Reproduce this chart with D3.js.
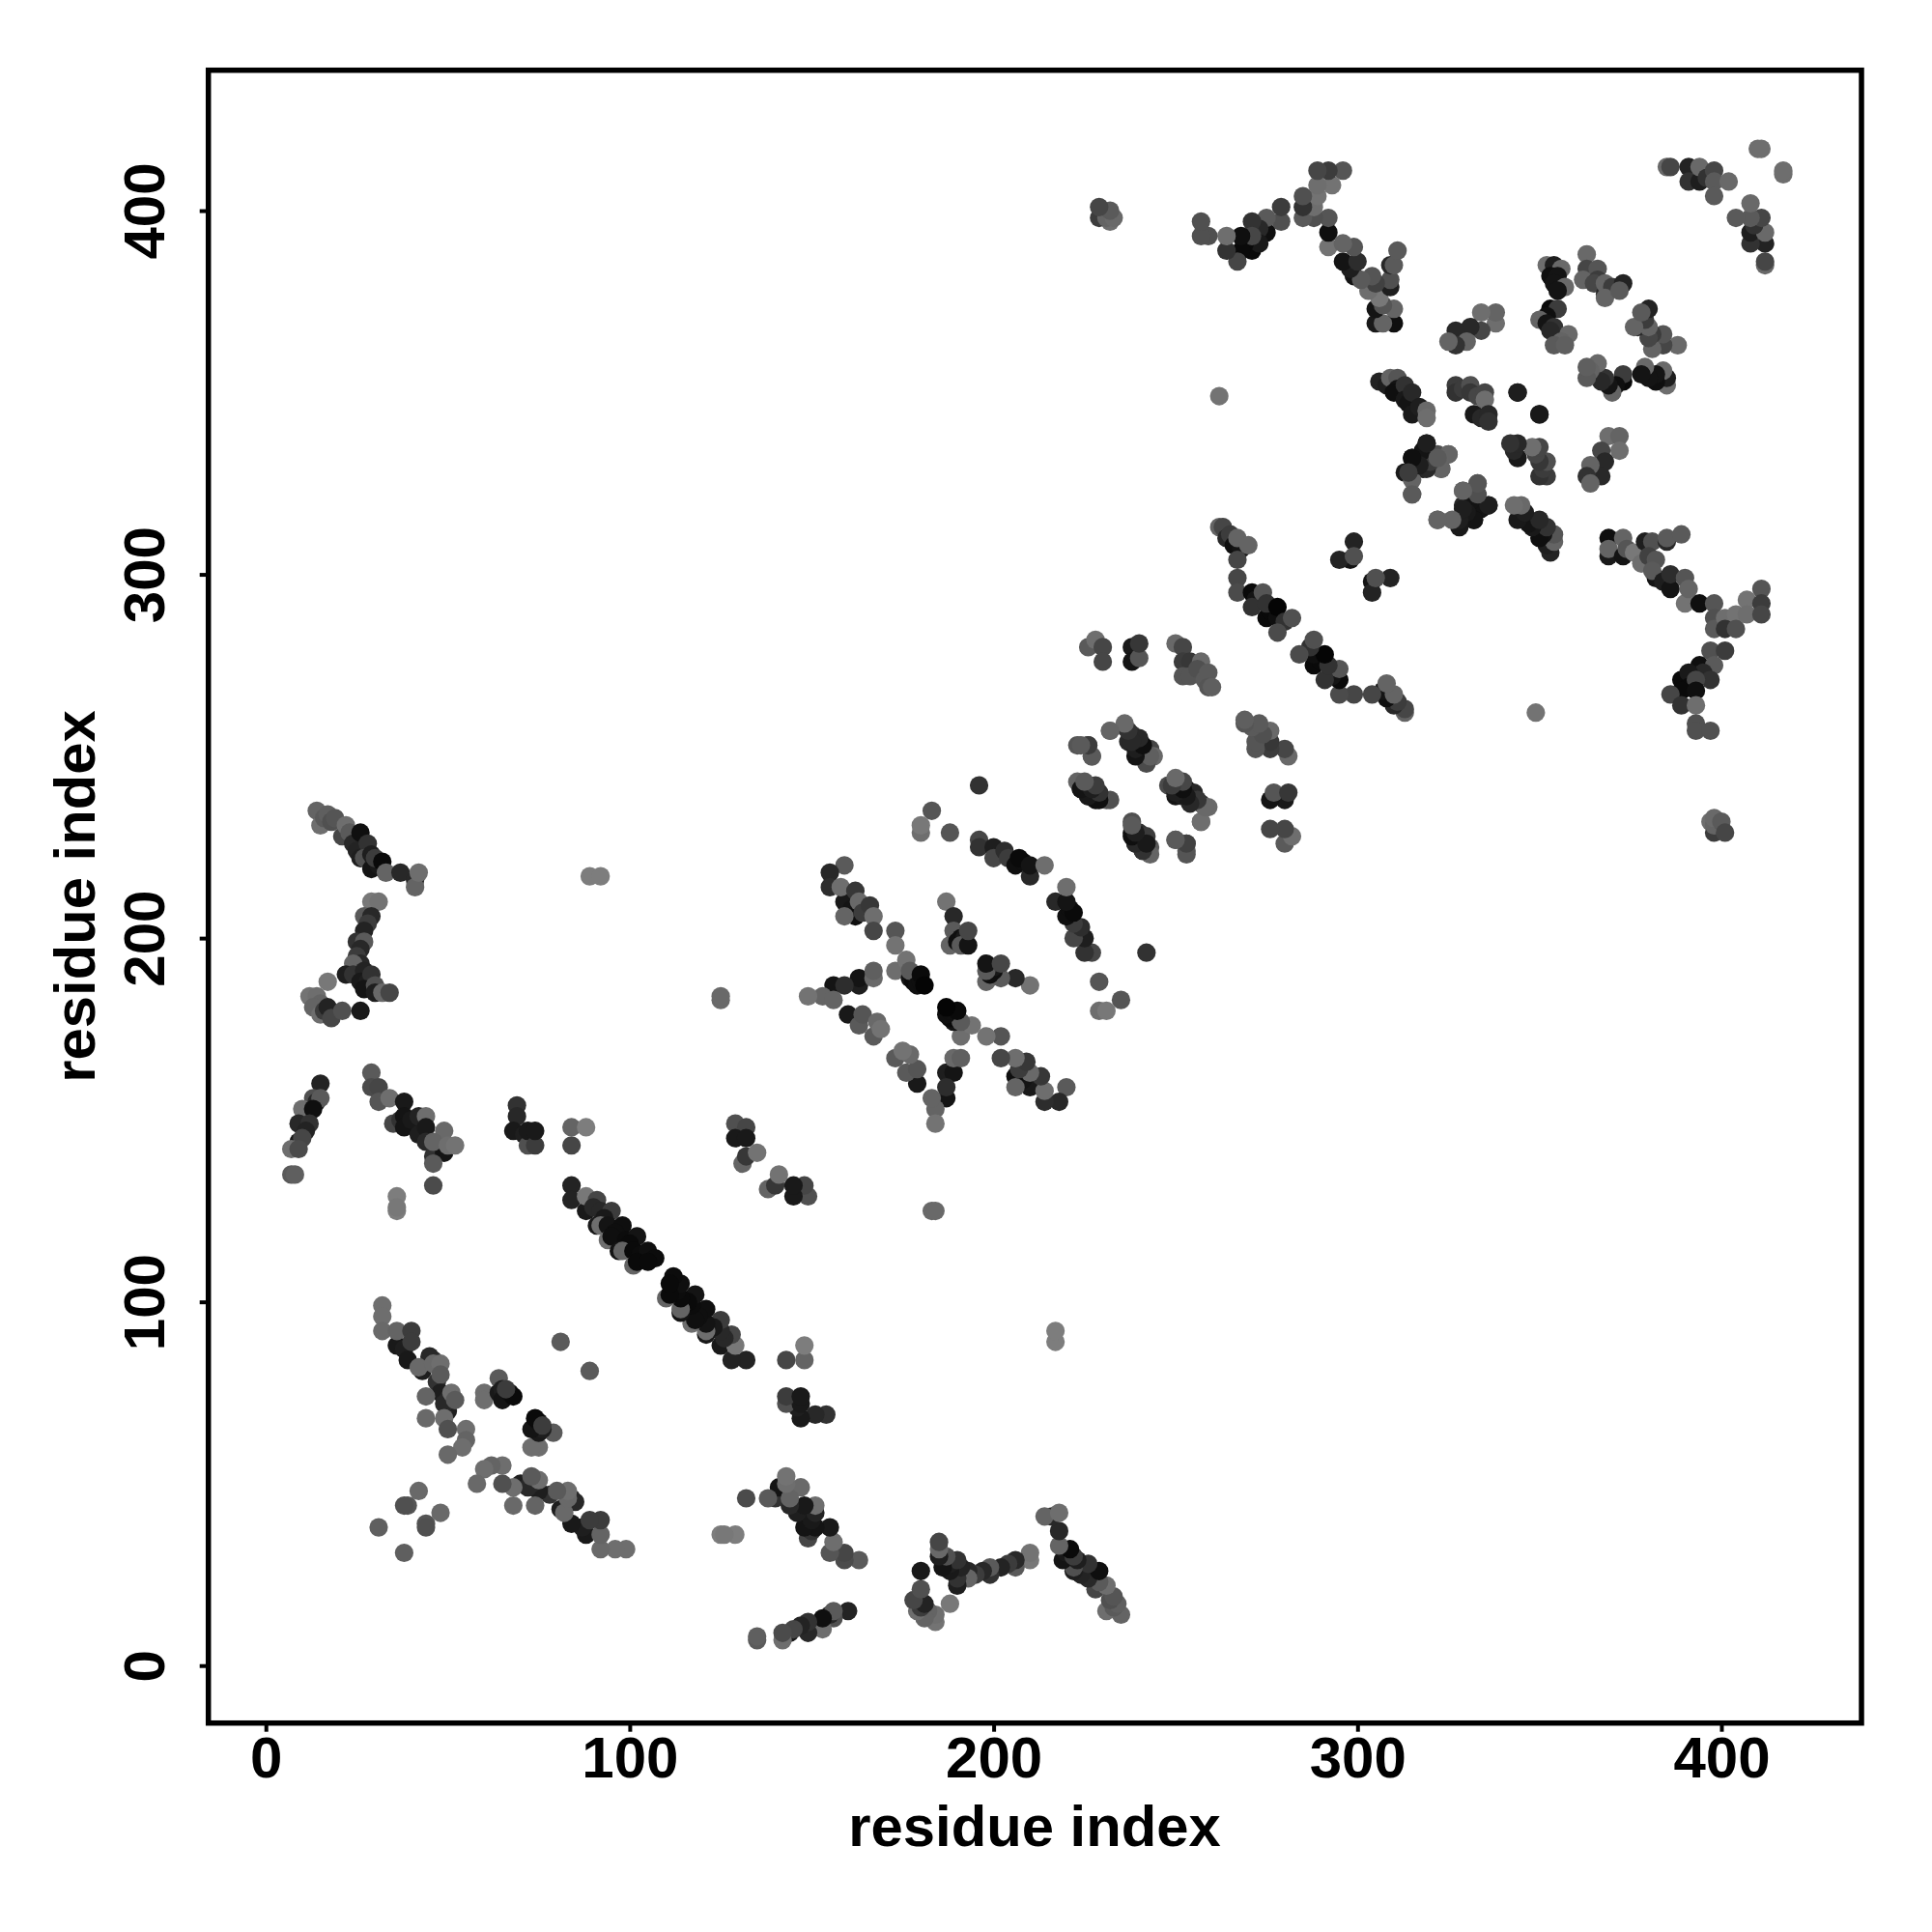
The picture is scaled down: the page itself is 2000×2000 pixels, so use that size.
<!DOCTYPE html>
<html>
<head>
<meta charset="utf-8">
<script src="https://cdn.jsdelivr.net/npm/d3@7"></script>
<style>html,body{margin:0;padding:0;background:#fff}svg{display:block}</style>
</head>
<body>
<svg id="chart" width="2000" height="2000"></svg>
<script>
// each contact: [residue a, residue b, grey level]; the map is drawn for (a,b) and (b,a)
const xTicks = [0, 100, 200, 300, 400];
const yTicks = [0, 100, 200, 300, 400];
const xTitle = "residue index";
const yTitle = "residue index";

const nTerminal = [[32,99,110],[32,96,110],[32,92,105],[36,88,25],[38,87,30],[39,84,25],[36,92,100],[40,92,60],[40,89,60],[43,81,30],[46,84,40],[45,84,30],[45,85,40],[42,82,105],[46,83,105],[48,83,110],[47,78,50],[48,80,90],[48,75,30],[50,73,40],[50,70,30],[49,72,40],[44,74,100],[51,75,110],[52,73,90],[44,68,105],[49,68,110],[50,65,80],[55,65,110],[55,62,100],[54,60,110],[50,58,105],[64,79,90],[60,75,110],[60,73,110],[64,75,25],[65,76,30],[65,73,20],[67,75,15],[68,74,10],[66,76,60],[81,89,90],[42,48,105],[39,44,85],[38,44,80],[31,38,95]];
const hairpinLong = [[84,132,35],[84,128,35],[88,125,25],[88,129,120],[91,128,70],[90,126,40],[92,125,40],[95,125,60],[93,123,25],[91,121,25],[92,121,110],[94,121,20],[98,121,15],[96,119,15],[94,117,110],[95,118,15],[99,117,12],[102,118,20],[100,116,10],[97,114,20],[98,114,100],[101,114,10],[103,113,12],[105,114,15],[107,112,12],[101,110,100],[102,111,10],[105,111,10],[129,149,80],[132,148,70],[129,145,25],[132,145,25],[131,138,100],[132,140,55],[135,141,115]];
const topArm = [[14,235,100],[15,231,110],[16,233,90],[17,234,95],[18,232,80],[19,233,85],[21,228,70],[22,231,110],[23,229,90],[24,226,40],[25,224,35],[26,222,30],[26,229,15],[28,226,50],[27,222,80],[29,223,30],[29,219,20],[31,220,25],[30,222,60],[32,221,10],[33,218,100],[37,218,40],[41,216,40],[41,214,100],[42,218,110]];
const midArm = [[29,210,120],[31,210,115],[27,206,90],[29,206,40],[28,204,60],[27,202,35],[25,199,50],[27,199,90],[26,197,40],[25,195,60],[26,193,40],[24,193,100],[22,190,30],[24,190,50],[27,191,35],[26,188,25],[28,188,30],[29,190,50],[27,186,20],[30,187,80],[30,185,30],[32,185,105],[34,185,70],[17,188,120],[12,184,115],[14,184,110],[15,182,100],[13,181,100],[15,179,110],[16,180,60],[17,181,35],[18,178,70],[21,180,80],[26,180,25]];
const lowArm = [[15,160,35],[13,156,80],[14,155,40],[15,156,90],[10,153,110],[13,153,15],[9,149,40],[12,149,50],[11,147,35],[9,144,25],[10,145,70],[7,142,110],[9,142,75],[7,135,90],[8,135,95],[29,163,90],[29,159,75],[31,159,70],[31,155,85],[34,156,110],[38,155,25],[35,149,70],[37,150,50],[38,151,20],[38,148,20],[40,150,25],[42,151,35],[42,146,30],[44,151,110],[44,148,25],[44,144,40],[47,142,40],[49,147,105],[46,140,50],[49,141,20],[46,138,90],[46,144,100],[50,143,110],[52,143,115],[46,132,75],[36,129,125],[36,125,125],[36,126,120],[69,154,50],[69,151,40],[68,147,25],[71,146,30],[72,143,80],[72,147,25],[74,143,60],[74,147,25],[84,143,70],[84,148,100],[88,148,125],[89,217,125],[92,217,125],[125,183,105],[125,184,105]];
const centreLeft = [[196,242,50],[183,235,85],[180,229,110],[180,231,120],[188,229,85],[159,220,90],[155,218,40],[155,214,45],[159,210,25],[158,214,110],[162,213,55],[161,208,20],[162,206,15],[163,210,105],[164,207,60],[166,209,55],[159,206,100],[167,206,110],[167,202,70],[173,202,85],[173,198,115],[173,191,110],[177,189,20],[178,188,10],[176,194,115],[177,191,90],[179,187,15],[180,188,15],[180,190,10],[181,187,5],[163,187,30],[163,189,20],[167,189,105],[167,191,95],[156,187,20],[159,187,45],[153,184,100],[156,183,100],[149,184,115],[160,179,25],[163,176,90],[164,179,85],[167,173,90],[168,177,105],[169,175,115]];
const centreRight = [[187,210,115],[189,206,40],[188,198,100],[189,202,90],[190,199,15],[191,200,15],[192,200,25],[191,198,90],[193,198,20],[193,202,70],[196,227,70],[196,225,50],[200,225,30],[200,222,70],[203,224,45],[204,222,60],[206,220,15],[208,221,15],[207,222,10],[210,217,40],[210,220,20],[214,220,110]];
const strandA = [[262,313,100],[263,313,70],[264,310,40],[265,311,60],[266,308,15],[268,307,20],[267,310,100],[270,308,100],[267,304,70],[267,299,70],[267,295,75],[271,295,10],[272,293,20],[274,295,85],[271,291,50],[275,288,10],[276,290,10],[278,288,15],[275,292,50],[278,291,5],[280,287,50],[278,284,75],[282,288,80],[299,309,35],[298,304,20],[295,304,35],[299,305,80]];
const strandB = [[226,280,90],[228,282,110],[230,280,70],[230,276,70],[238,280,25],[238,276,20],[240,277,85],[240,281,55],[250,281,105],[252,280,70],[252,276,60],[254,276,55],[257,276,105],[252,272,85],[254,272,85],[256,274,80],[258,271,90],[259,273,90],[259,269,85],[260,269,95],[232,257,110],[236,258,105],[238,256,55],[237,254,40],[239,253,25],[240,250,30],[241,252,15],[243,252,70],[242,249,60],[244,250,105],[223,253,85],[226,253,65],[227,250,90],[223,243,100],[224,241,50],[226,239,40],[228,238,15],[226,242,25],[229,239,30],[231,238,90],[248,242,75],[250,243,95],[250,239,20],[252,239,30],[253,241,15],[255,240,40],[254,238,40],[257,237,50],[259,236,105],[257,232,100],[238,232,80],[238,229,15],[239,226,25],[240,229,50],[241,224,20],[241,227,30],[242,228,60],[243,225,90],[250,227,90],[253,226,60],[253,224,90]];
const domainCore = [[306,353,35],[308,352,30],[309,354,100],[311,354,85],[311,351,20],[310,350,15],[313,352,50],[313,348,25],[314,347,20],[315,350,40],[315,344,25],[317,346,30],[319,345,105],[319,343,110],[327,352,60],[327,350,50],[329,351,60],[331,352,80],[331,350,55],[333,349,70],[335,350,70],[335,348,110],[332,344,25],[334,343,40],[336,344,40],[336,342,50],[344,350,25],[350,344,30],[319,336,30],[315,332,20],[320,331,20],[317,330,25],[322,333,80],[325,333,85],[313,328,25],[315,328,30],[318,329,30],[323,329,100],[315,326,100],[315,322,100],[329,323,100],[329,319,40],[331,320,60],[334,318,20],[330,317,30],[336,319,30],[332,315,15],[333,325,100],[332,322,90],[328,314,60],[322,315,90]];
const domainSide = [[369,338,110],[372,338,100],[372,334,110],[367,334,70],[368,331,40],[367,327,40],[364,330,100],[363,327,50],[364,325,100],[352,385,110],[354,385,30],[356,384,105],[353,382,15],[355,382,20],[354,380,20],[357,379,105],[355,378,20],[353,373,10],[355,373,60],[352,371,15],[350,370,100],[352,369,20],[354,368,50],[353,367,40],[358,366,105],[356,364,100],[354,363,90],[357,363,95],[363,388,105],[363,384,70],[366,384,85],[362,381,100],[366,381,60],[365,380,70],[368,377,40],[368,380,100],[370,379,60],[368,376,100],[373,380,35],[372,378,90]];
const cTerminalArm = [[369,305,25],[369,310,15],[373,310,100],[369,307,100],[373,305,20],[374,307,85],[376,306,120],[379,309,30],[381,309,80],[385,309,40],[385,310,90],[389,311,90],[378,303,110],[380,305,65],[382,299,20],[382,304,85],[381,301,90],[384,298,30],[386,296,20],[386,300,45],[390,299,85],[390,292,115],[391,296,100],[394,292,15],[398,292,85],[398,288,80],[398,285,90],[401,288,110],[404,289,115],[401,285,50],[404,285,80],[407,293,115],[411,296,85],[411,292,60],[407,289,110],[411,289,70],[397,279,80],[401,279,60],[394,275,15],[398,275,90],[395,273,40],[389,271,10],[391,273,25],[391,269,10],[397,271,50],[393,271,70],[389,268,10],[393,268,15],[386,267,70],[389,264,50],[393,264,110],[393,259,80],[393,257,80],[397,257,80],[349,262,115],[397,232,110],[398,229,60],[398,231,100],[398,233,105],[400,232,90],[401,229,70]];
const cTerminalTip = [[385,412,105],[386,412,70],[391,412,35],[391,408,50],[394,408,30],[394,412,105],[396,409,50],[398,411,70],[398,408,90],[402,408,105],[398,404,90],[410,417,110],[411,417,110]];

const contacts = [].concat(nTerminal, hairpinLong, topArm, midArm, lowArm, centreLeft, centreRight,
                           strandA, strandB, domainCore, domainSide, cTerminalArm, cTerminalTip);

const svg = d3.select("#chart");
const x = d3.scaleLinear().domain([-15.8, 438.5]).range([215.7, 1927]);
const y = d3.scaleLinear().domain([-15.8, 438.6]).range([1783.7, 72.7]);
const grey = v => d3.rgb(v, v, v).formatHex();

const marks = svg.append("g");
[[0,1],[1,0]].forEach(([a,b]) => {
  marks.selectAll(null).data(contacts).enter().append("circle")
    .attr("cx", d => x(d[a]))
    .attr("cy", d => y(d[b]))
    .attr("r", 9.6)
    .attr("fill", d => grey(d[2]));
});

const font = "'Liberation Sans', Arial, sans-serif";
const xAxis = svg.append("g").attr("transform", "translate(0,1783.7)")
  .call(d3.axisBottom(x).tickValues(xTicks).tickSize(9).tickSizeOuter(0));
const yAxis = svg.append("g").attr("transform", "translate(215.7,0)")
  .call(d3.axisLeft(y).tickValues(yTicks).tickSize(9).tickSizeOuter(0));
[xAxis, yAxis].forEach(g => {
  g.select(".domain").remove();
  g.selectAll("line").attr("stroke", "#000").attr("stroke-width", 4);
  g.selectAll("text").attr("font-family", font).attr("font-weight", "bold")
    .attr("font-size", 60).attr("fill", "#000");
});
xAxis.selectAll("text").attr("y", 56.5).attr("dy", 0).attr("text-anchor", "middle");
yAxis.selectAll("text").attr("dy", 0).attr("x", null)
  .attr("text-anchor", "middle")
  .attr("transform", "translate(-45.5,0) rotate(-90)");

svg.append("rect").attr("x", 215.7).attr("y", 72.7).attr("width", 1711.3).attr("height", 1711)
  .attr("fill", "none").attr("stroke", "#000").attr("stroke-width", 5.5);

svg.append("text").attr("x", 1071).attr("y", 1911).attr("text-anchor", "middle")
  .attr("font-family", font).attr("font-weight", "bold").attr("font-size", 59.8).text(xTitle);
svg.append("text").attr("transform", "translate(98,928) rotate(-90)").attr("text-anchor", "middle")
  .attr("font-family", font).attr("font-weight", "bold").attr("font-size", 59.8).text(yTitle);
</script>
</body>
</html>
